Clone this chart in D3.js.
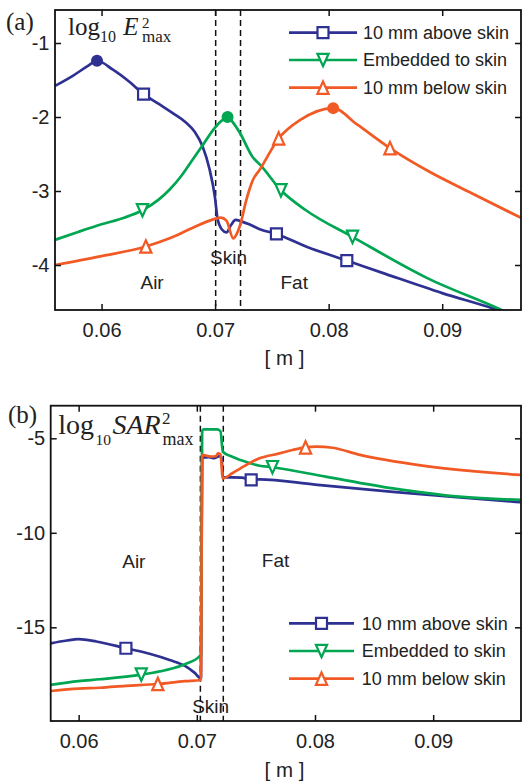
<!DOCTYPE html>
<html><head><meta charset="utf-8">
<script src="https://cdn.jsdelivr.net/npm/d3@7"></script>
<style>body{margin:0;background:#fff} svg{display:block}</style>
</head><body><svg id="c" width="523" height="784"></svg>
<script>
// ---------- data ----------
const xTicks = [0.06, 0.07, 0.08, 0.09];
const xTickLabels = ["0.06", "0.07", "0.08", "0.09"];
const yTicksA = [-1, -2, -3, -4];
const yTicksB = [-5, -10, -15];
const seriesNames = ["10 mm above skin", "Embedded to skin", "10 mm below skin"];
const regionNames = ["Air", "Skin", "Fat"];
const xLimA = [0.0559, 0.09694];
const yLimA = [-4.608, -0.554];
const xLimB = [0.057636, 0.097431];
const yLimB = [-19.958, -3.275];
const skinA = [0.07005, 0.07224];
const skinB = [0.0703, 0.07224];

// panel (a): log10 E^2max
const aboveA = [[0.0559,-1.58],[0.0575,-1.44],[0.0588,-1.31],[0.0596,-1.24],[0.0610,-1.36],[0.0625,-1.53],[0.0637,-1.69],[0.0650,-1.82],[0.0663,-1.95],[0.0674,-2.07],[0.0682,-2.20],[0.0689,-2.40],[0.0695,-2.70],[0.0700,-3.10],[0.0702,-3.36],[0.0706,-3.52],[0.0710,-3.56],[0.0714,-3.46],[0.0718,-3.39],[0.0723,-3.41],[0.0730,-3.45],[0.0740,-3.52],[0.0754,-3.58],[0.0780,-3.75],[0.0816,-3.94],[0.0850,-4.12],[0.0900,-4.38],[0.0949,-4.61],[0.0960,-4.67]];
const embedA = [[0.0559,-3.66],[0.0580,-3.55],[0.0600,-3.45],[0.0620,-3.36],[0.0636,-3.26],[0.0650,-3.12],[0.0660,-2.98],[0.0670,-2.80],[0.0680,-2.58],[0.0690,-2.36],[0.0698,-2.18],[0.0705,-2.06],[0.0711,-2.00],[0.0716,-2.08],[0.0722,-2.22],[0.0733,-2.54],[0.0740,-2.65],[0.0758,-2.99],[0.0780,-3.26],[0.0821,-3.62],[0.0886,-4.17],[0.0954,-4.62],[0.0965,-4.70]];
const belowA = [[0.0559,-4.00],[0.0600,-3.88],[0.0639,-3.75],[0.0660,-3.64],[0.0680,-3.50],[0.0699,-3.38],[0.0705,-3.36],[0.0710,-3.40],[0.0716,-3.64],[0.0719,-3.58],[0.0723,-3.41],[0.0727,-3.15],[0.0730,-2.99],[0.0733,-2.86],[0.0739,-2.72],[0.0756,-2.29],[0.0775,-2.04],[0.0804,-1.88],[0.0825,-2.10],[0.0854,-2.42],[0.0890,-2.75],[0.0926,-3.03],[0.0969,-3.36]];
const aboveMarkA = [[0.0637,-1.69],[0.0754,-3.58],[0.0816,-3.94]];
const embedMarkA = [[0.0636,-3.26],[0.0758,-2.99],[0.0821,-3.62]];
const belowMarkA = [[0.0639,-3.75],[0.0756,-2.29],[0.0854,-2.42]];
const peaksA = [[0.0596,-1.24],[0.0711,-2.00],[0.0804,-1.88]];

// panel (b): log10 SAR^2max
const aboveB = [[0.05764,-15.85],[0.0590,-15.70],[0.0600,-15.63],[0.0615,-15.75],[0.0640,-16.11],[0.0660,-16.40],[0.0677,-16.73],[0.0691,-17.08],[0.0698,-17.40],[0.07035,-17.70],[0.07045,-6.02],[0.0710,-6.00],[0.0715,-6.05],[0.0719,-5.95],[0.0721,-6.05],[0.0722,-7.05],[0.0738,-7.08],[0.0746,-7.20],[0.0753,-7.17],[0.0800,-7.45],[0.0866,-7.83],[0.0920,-8.12],[0.0974,-8.38]];
const embedB = [[0.05764,-18.05],[0.0600,-17.85],[0.0618,-17.75],[0.0653,-17.50],[0.0674,-17.26],[0.0690,-16.95],[0.0702,-16.55],[0.07035,-16.45],[0.07045,-4.62],[0.0706,-4.53],[0.0717,-4.53],[0.0720,-4.62],[0.0722,-5.71],[0.0730,-5.98],[0.0737,-6.15],[0.0753,-6.45],[0.0764,-6.53],[0.0809,-7.03],[0.0866,-7.65],[0.0922,-8.09],[0.0974,-8.26]];
const belowB = [[0.05764,-18.37],[0.0600,-18.25],[0.0618,-18.20],[0.0640,-18.10],[0.0667,-18.00],[0.0690,-17.85],[0.07035,-17.79],[0.07045,-5.88],[0.0712,-5.97],[0.0716,-5.95],[0.0718,-5.80],[0.0720,-5.85],[0.0722,-7.12],[0.0730,-6.85],[0.0737,-6.59],[0.0753,-6.06],[0.0770,-5.80],[0.0781,-5.62],[0.0792,-5.48],[0.0801,-5.44],[0.0815,-5.50],[0.0838,-5.88],[0.0894,-6.47],[0.0974,-6.94]];
const aboveMarkB = [[0.0640,-16.11],[0.0746,-7.20]];
const embedMarkB = [[0.0653,-17.50],[0.0764,-6.53]];
const belowMarkB = [[0.0667,-18.00],[0.0792,-5.48]];

// ---------- style ----------
const colors = ["#2e3192", "#00a651", "#f15a24"];
const shapes = ["square", "down", "up"];
const SANS = "'Liberation Sans', Arial, sans-serif";
const SERIF = "'Liberation Serif', 'Times New Roman', serif";

const svg = d3.select("#c");
svg.append("rect").attr("width", 523).attr("height", 784).attr("fill", "#fff");

function markerPath(shape) {
  if (shape === "square") { const s = 5.5; return `M${-s},${-s}H${s}V${s}H${-s}Z`; }
  const w = 5.6, h = 6.2;
  if (shape === "up") return `M0,${-h}L${w},${h}L${-w},${h}Z`;
  return `M0,${h}L${w},${-h}L${-w},${-h}Z`;
}

function panel(cfg) {
  const g = svg.append("g");
  const x = d3.scaleLinear().domain(cfg.xLim).range([cfg.l, cfg.r]);
  const y = d3.scaleLinear().domain(cfg.yLim).range([cfg.b, cfg.t]);
  const clipId = "clip" + cfg.id;
  svg.append("clipPath").attr("id", clipId).append("rect")
    .attr("x", cfg.l).attr("y", cfg.t).attr("width", cfg.r - cfg.l).attr("height", cfg.b - cfg.t);

  cfg.regions.forEach((rg, i) => {
    g.append("text").attr("x", x(rg[0])).attr("y", y(rg[1]))
      .attr("text-anchor", "middle").attr("font-family", SANS).attr("font-size", 19)
      .attr("fill", "#222").text(regionNames[i]);
  });

  cfg.skin.forEach(s => {
    g.append("line").attr("x1", x(s)).attr("x2", x(s)).attr("y1", cfg.t).attr("y2", cfg.b)
      .attr("stroke", "#111").attr("stroke-width", 1.5).attr("stroke-dasharray", "6,4");
  });

  const line = d3.line().x(d => x(d[0])).y(d => y(d[1])).curve(d3.curveMonotoneX);
  const lg = g.append("g").attr("clip-path", `url(#${clipId})`);
  cfg.series.forEach((s, i) => {
    lg.append("path").datum(s).attr("d", line).attr("fill", "none")
      .attr("stroke", colors[i]).attr("stroke-width", 2.7).attr("stroke-linejoin", "round");
  });
  cfg.marks.forEach((m, i) => {
    m.forEach(p => {
      lg.append("path").attr("d", markerPath(shapes[i]))
        .attr("transform", `translate(${x(p[0])},${y(p[1])})`)
        .attr("fill", "#fff").attr("stroke", colors[i]).attr("stroke-width", 2.2);
    });
  });
  if (cfg.peaks) {
    cfg.peaks.forEach((p, i) => {
      lg.append("circle").attr("cx", x(p[0])).attr("cy", y(p[1])).attr("r", 6)
        .attr("fill", colors[i]);
    });
  }

  const ax = g.append("g").attr("font-family", SANS);
  const bottom = d3.axisBottom(x).tickValues(xTicks).tickSize(-6).tickPadding(12.5)
    .tickFormat((d, i) => xTickLabels[i]);
  const topA = d3.axisTop(x).tickValues(xTicks).tickSize(-6).tickFormat("");
  const left = d3.axisLeft(y).tickValues(cfg.yTicks).tickSize(-6).tickPadding(5.5)
    .tickFormat(d => String(d));
  const right = d3.axisRight(y).tickValues(cfg.yTicks).tickSize(-6).tickFormat("");
  [[bottom, `translate(0,${cfg.b})`], [topA, `translate(0,${cfg.t})`],
   [left, `translate(${cfg.l},0)`], [right, `translate(${cfg.r},0)`]].forEach(([a, tr]) => {
    const gg = ax.append("g").attr("transform", tr).call(a);
    gg.select(".domain").remove();
    gg.selectAll("line").attr("stroke", "#111").attr("stroke-width", 1.5);
    gg.selectAll("text").attr("font-size", 20).attr("font-family", SANS).attr("fill", "#222");
  });
  g.append("rect").attr("x", cfg.l).attr("y", cfg.t).attr("width", cfg.r - cfg.l).attr("height", cfg.b - cfg.t)
    .attr("fill", "none").attr("stroke", "#111").attr("stroke-width", 1.8);

  g.append("text").attr("x", 284.5).attr("y", cfg.b + cfg.xLabDy).attr("text-anchor", "middle")
    .attr("font-family", SANS).attr("font-size", 20.5).attr("fill", "#222").text("[ m ]");

  cfg.legendRows.forEach((ly, i) => {
    g.append("line").attr("x1", cfg.legX[0]).attr("x2", cfg.legX[1]).attr("y1", ly).attr("y2", ly)
      .attr("stroke", colors[i]).attr("stroke-width", 2.7);
    g.append("path").attr("d", markerPath(shapes[i]))
      .attr("transform", `translate(${(cfg.legX[0] + cfg.legX[1]) / 2},${ly})`)
      .attr("fill", "#fff").attr("stroke", colors[i]).attr("stroke-width", 2.2);
    g.append("text").attr("x", cfg.legX[2]).attr("y", ly + 6.4)
      .attr("font-family", SANS).attr("font-size", 18).attr("fill", "#222").text(seriesNames[i]);
  });
  return g;
}

panel({
  id: "a", l: 55, r: 521, t: 10, b: 310, xLim: xLimA, yLim: yLimA, yTicks: yTicksA,
  series: [aboveA, embedA, belowA], marks: [aboveMarkA, embedMarkA, belowMarkA], peaks: peaksA,
  skin: skinA, regions: [[0.06445, -4.33], [0.07118, -3.98], [0.07697, -4.32]],
  xLabDy: 55, legendRows: [32.7, 60, 87.7], legX: [289, 357, 363]
});
panel({
  id: "b", l: 50.7, r: 521, t: 405.7, b: 721, xLim: xLimB, yLim: yLimB, yTicks: yTicksB,
  series: [aboveB, embedB, belowB], marks: [aboveMarkB, embedMarkB, belowMarkB], peaks: null,
  skin: skinB, regions: [[0.06467, -11.86], [0.07117, -19.53], [0.07666, -11.81]],
  xLabDy: 55.7, legendRows: [623.3, 651, 678.7], legX: [289, 354, 361.7]
});

function t(xp, yp, size, txt, italic) {
  svg.append("text").attr("x", xp).attr("y", yp).attr("font-family", SERIF).attr("font-size", size)
    .attr("font-style", italic ? "italic" : "normal").attr("fill", "#222").text(txt);
}
t(6, 30, 25, "(a)");
t(8, 423, 25, "(b)");
t(68, 34.5, 25, "log");
t(100, 41.5, 16, "10");
t(123.3, 34.5, 25, "E", true);
t(142, 27.5, 15, "2");
t(142, 42, 17, "max");
t(58.3, 434, 28, "log");
t(95.5, 445, 15.5, "10");
t(112.5, 434, 28, "SAR", true);
t(162, 424, 17, "2");
t(162.5, 445, 18, "max");
</script></body></html>
